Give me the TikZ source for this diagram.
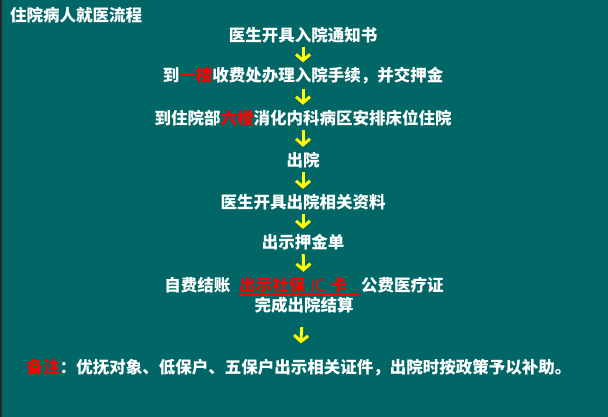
\documentclass[tikz,border=0pt]{standalone}
\usepackage{fontspec}
\usepackage{xcolor}
\usetikzlibrary{arrows.meta,positioning}
\newfontfamily\cjk{Noto Sans CJK SC}
\definecolor{boardteal}{RGB}{0,102,102}
\definecolor{hotred}{RGB}{255,0,0}
\definecolor{arrowyellow}{RGB}{255,255,0}
% red text with a heavy red underline
\newcommand{\ulred}[1]{{\color{hotred}\setbox0\hbox{#1}\rlap{\rule[-3.5pt]{\wd0}{2pt}}\box0}}

\begin{document}
\begin{tikzpicture}[x=1pt, y=-1pt,
  steptxt/.style={font=\cjk\bfseries\fontsize{16.5}{20}\selectfont, text=white, inner sep=0pt, align=center},
  titletxt/.style={steptxt, anchor=west},
  flowarr/.style={arrowyellow, line width=3pt, shorten <=4pt, shorten >=5pt,
    -{Straight Barb[length=6pt, width=14pt, line width=3pt]}}]

  \fill[boardteal] (0,0) rectangle (608,417);
  \fill[black!85] (0,0) rectangle (2,417);
  \useasboundingbox (0,0) rectangle (608,417);

  \node[titletxt] (ttl) at (10,15) {住院病人就医流程};

  \node[steptxt] (s1) at (303,35)  {医生开具入院通知书};
  \node[steptxt] (s2) at (303,76)  {到\textcolor{hotred}{一楼}收费处办理入院手续，并交押金};
  \node[steptxt] (s3) at (303,118) {到住院部\textcolor{hotred}{六楼}消化内科病区安排床位住院};
  \node[steptxt] (s4) at (303,160) {出院};
  \node[steptxt] (s5) at (303,202) {医生开具出院相关资料};
  \node[steptxt] (s6) at (303,242) {出示押金单};
  \node[steptxt] (s7) at (304,295) {自费结账\hspace{9pt}\ulred{出示社保\hspace{5pt}{\mdseries IC}\hspace{5pt}卡\hspace{12pt}}\hspace{2pt}公费医疗证\\完成出院结算};
  \node[steptxt] (nt) at (299,368) {\textcolor{hotred}{备注}：优抚对象、低保户、五保户出示相关证件，出院时按政策予以补助。};

  \foreach \i/\j in {s1/s2,s2/s3,s3/s4,s4/s5,s5/s6,s6/s7} {\draw[flowarr] (\i) -- (\j);}
  \draw[flowarr, shorten <=14pt, shorten >=16pt] (s7) -- (nt);

\end{tikzpicture}
\end{document}
